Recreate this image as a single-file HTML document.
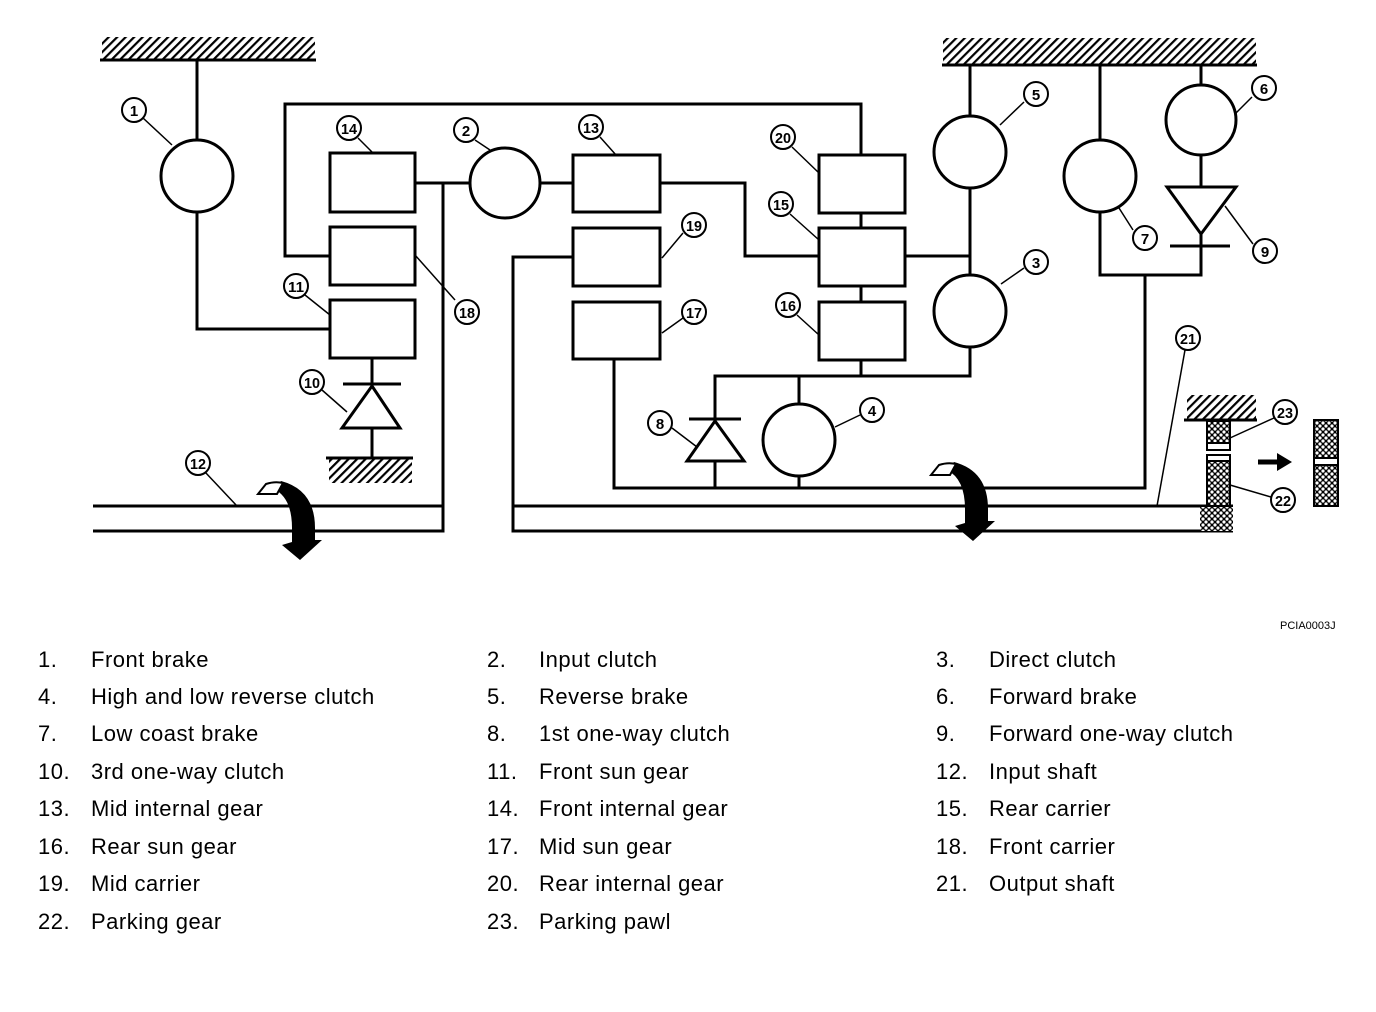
<!DOCTYPE html>
<html><head><meta charset="utf-8"><style>
body{margin:0;background:#fff;width:1376px;height:1012px;overflow:hidden;position:relative;font-family:"Liberation Sans",sans-serif}
svg{position:absolute;left:0;top:0}
.lg{position:absolute;font-size:22px;color:#000;white-space:nowrap;letter-spacing:0.5px;margin-top:-2px}
</style></head><body>
<svg width="1376" height="1012" viewBox="0 0 1376 1012">
<defs>
<pattern id="h" width="6" height="6" patternUnits="userSpaceOnUse" patternTransform="rotate(45)"><rect width="2.2" height="6" fill="#000"/></pattern>
<pattern id="x" width="6" height="6" patternUnits="userSpaceOnUse"><rect width="6" height="6" fill="#000"/><circle cx="3" cy="3" r="1.6" fill="#fff"/><circle cx="0" cy="0" r="1.6" fill="#fff"/><circle cx="6" cy="6" r="1.6" fill="#fff"/><circle cx="6" cy="0" r="1.6" fill="#fff"/><circle cx="0" cy="6" r="1.6" fill="#fff"/></pattern>
<g id="arr"><path d="M281,481 Q315,490 315,528 L315,540 L322,540 L300,560 L282,545 L292,542 L292,528 Q292,498 274,489 Z" fill="#000"/><path d="M258,494 L266,484 Q275,481 283,483 L277,494 Z" fill="#fff" stroke="#000" stroke-width="2"/></g>
</defs>
<g fill="none" stroke="#000" stroke-width="3">
<rect x="102" y="37" width="213" height="22" fill="url(#h)" stroke="none"/>
<line x1="100" y1="60" x2="316" y2="60"/>
<rect x="943" y="38" width="313" height="26" fill="url(#h)" stroke="none"/>
<line x1="942" y1="65" x2="1257" y2="65"/>
<rect x="329" y="459" width="83" height="24" fill="url(#h)" stroke="none"/>
<line x1="326" y1="458" x2="413" y2="458"/>
<rect x="1187" y="395" width="69" height="24" fill="url(#h)" stroke="none"/>
<line x1="1184" y1="420" x2="1257" y2="420"/>
<line x1="197" y1="60" x2="197" y2="141"/>
<circle cx="197" cy="176" r="36"/>
<polyline points="197,212 197,329 330,329"/>
<rect x="330" y="153" width="85" height="59"/>
<rect x="330" y="227" width="85" height="58"/>
<rect x="330" y="300" width="85" height="58"/>
<polyline points="330,256 285,256 285,104 861,104 861,155"/>
<line x1="415" y1="183" x2="470" y2="183"/>
<circle cx="505" cy="183" r="35"/>
<polyline points="443,183 443,531 93,531"/>
<line x1="93" y1="506" x2="443" y2="506"/>
<line x1="372" y1="358" x2="372" y2="384"/>
<line x1="343" y1="384" x2="401" y2="384"/>
<polygon points="372,386 342,428 400,428"/>
<line x1="372" y1="428" x2="372" y2="458"/>
<line x1="540" y1="183" x2="573" y2="183"/>
<rect x="573" y="155" width="87" height="57"/>
<rect x="573" y="228" width="87" height="58"/>
<rect x="573" y="302" width="87" height="57"/>
<polyline points="660,183 745,183 745,256 819,256"/>
<polyline points="573,257 513,257 513,531 1233,531"/>
<line x1="513" y1="506" x2="1233" y2="506"/>
<rect x="819" y="155" width="86" height="58"/>
<rect x="819" y="228" width="86" height="58"/>
<rect x="819" y="302" width="86" height="58"/>
<line x1="861" y1="213" x2="861" y2="228"/>
<line x1="861" y1="286" x2="861" y2="302"/>
<line x1="861" y1="360" x2="861" y2="376"/>
<polyline points="715,419 715,376 970,376 970,347"/>
<line x1="799" y1="376" x2="799" y2="404"/>
<circle cx="799" cy="440" r="36"/>
<line x1="799" y1="476" x2="799" y2="488"/>
<line x1="689" y1="419" x2="741" y2="419"/>
<polygon points="715,421 687,461 744,461"/>
<line x1="715" y1="461" x2="715" y2="488"/>
<polyline points="614,359 614,488 1145,488 1145,275"/>
<line x1="905" y1="256" x2="970" y2="256"/>
<line x1="970" y1="65" x2="970" y2="116"/>
<circle cx="970" cy="152" r="36"/>
<line x1="970" y1="188" x2="970" y2="275"/>
<circle cx="970" cy="311" r="36"/>
<line x1="1100" y1="65" x2="1100" y2="140"/>
<circle cx="1100" cy="176" r="36"/>
<polyline points="1100,212 1100,275 1201,275 1201,234"/>
<line x1="1201" y1="65" x2="1201" y2="85"/>
<circle cx="1201" cy="120" r="35"/>
<line x1="1201" y1="155" x2="1201" y2="187"/>
<polygon points="1167,187 1236,187 1201,234"/>
<line x1="1170" y1="246" x2="1230" y2="246"/>
</g>
<g stroke="#000" stroke-width="2">
<rect x="1207" y="421" width="23" height="22" fill="url(#x)"/>
<rect x="1207" y="443" width="23" height="7" fill="#fff"/>
<rect x="1207" y="455" width="23" height="6" fill="#fff"/>
<rect x="1207" y="461" width="23" height="45" fill="url(#x)"/>
<rect x="1200" y="507" width="33" height="24" fill="url(#x)" stroke="none"/>
<rect x="1314" y="420" width="24" height="86" fill="url(#x)"/>
<rect x="1314" y="458" width="24" height="7" fill="#fff"/>
</g>
<line x1="1258" y1="462" x2="1278" y2="462" stroke="#000" stroke-width="5"/>
<polygon points="1277,453 1292,462 1277,471" fill="#000"/>
<use href="#arr"/>
<use href="#arr" transform="translate(673,-19)"/>
<g stroke="#000" stroke-width="1.5">
<line x1="143" y1="118" x2="172" y2="145"/>
<line x1="475" y1="140" x2="490" y2="150"/>
<line x1="358" y1="138" x2="373" y2="153"/>
<line x1="305" y1="295" x2="330" y2="315"/>
<line x1="415" y1="255" x2="455" y2="300"/>
<line x1="322" y1="390" x2="347" y2="412"/>
<line x1="205" y1="472" x2="237" y2="506"/>
<line x1="600" y1="137" x2="616" y2="155"/>
<line x1="683" y1="233" x2="662" y2="258"/>
<line x1="683" y1="318" x2="662" y2="333"/>
<line x1="792" y1="147" x2="819" y2="173"/>
<line x1="790" y1="214" x2="819" y2="240"/>
<line x1="797" y1="315" x2="819" y2="335"/>
<line x1="860" y1="415" x2="835" y2="427"/>
<line x1="672" y1="428" x2="697" y2="447"/>
<line x1="1024" y1="102" x2="1000" y2="125"/>
<line x1="1024" y1="268" x2="1001" y2="284"/>
<line x1="1252" y1="97" x2="1236" y2="113"/>
<line x1="1133" y1="230" x2="1119" y2="208"/>
<line x1="1253" y1="244" x2="1225" y2="206"/>
<line x1="1185" y1="350" x2="1157" y2="506"/>
<line x1="1274" y1="418" x2="1230" y2="438"/>
<line x1="1271" y1="497" x2="1230" y2="485"/>
</g>
<g fill="#fff" stroke="#000" stroke-width="2" font-family="Liberation Sans Narrow, Liberation Sans, sans-serif" font-weight="bold" font-size="15" text-anchor="middle">
<g><circle cx="134" cy="110" r="12"/><text x="134" y="116" fill="#000" stroke="none">1</text></g>
<g><circle cx="466" cy="130" r="12"/><text x="466" y="136" fill="#000" stroke="none">2</text></g>
<g><circle cx="349" cy="128" r="12"/><text x="349" y="134" fill="#000" stroke="none" textLength="16" lengthAdjust="spacingAndGlyphs">14</text></g>
<g><circle cx="296" cy="286" r="12"/><text x="296" y="292" fill="#000" stroke="none" textLength="16" lengthAdjust="spacingAndGlyphs">11</text></g>
<g><circle cx="467" cy="312" r="12"/><text x="467" y="318" fill="#000" stroke="none" textLength="16" lengthAdjust="spacingAndGlyphs">18</text></g>
<g><circle cx="312" cy="382" r="12"/><text x="312" y="388" fill="#000" stroke="none" textLength="16" lengthAdjust="spacingAndGlyphs">10</text></g>
<g><circle cx="198" cy="463" r="12"/><text x="198" y="469" fill="#000" stroke="none" textLength="16" lengthAdjust="spacingAndGlyphs">12</text></g>
<g><circle cx="591" cy="127" r="12"/><text x="591" y="133" fill="#000" stroke="none" textLength="16" lengthAdjust="spacingAndGlyphs">13</text></g>
<g><circle cx="694" cy="225" r="12"/><text x="694" y="231" fill="#000" stroke="none" textLength="16" lengthAdjust="spacingAndGlyphs">19</text></g>
<g><circle cx="694" cy="312" r="12"/><text x="694" y="318" fill="#000" stroke="none" textLength="16" lengthAdjust="spacingAndGlyphs">17</text></g>
<g><circle cx="783" cy="137" r="12"/><text x="783" y="143" fill="#000" stroke="none" textLength="16" lengthAdjust="spacingAndGlyphs">20</text></g>
<g><circle cx="781" cy="204" r="12"/><text x="781" y="210" fill="#000" stroke="none" textLength="16" lengthAdjust="spacingAndGlyphs">15</text></g>
<g><circle cx="788" cy="305" r="12"/><text x="788" y="311" fill="#000" stroke="none" textLength="16" lengthAdjust="spacingAndGlyphs">16</text></g>
<g><circle cx="872" cy="410" r="12"/><text x="872" y="416" fill="#000" stroke="none">4</text></g>
<g><circle cx="660" cy="423" r="12"/><text x="660" y="429" fill="#000" stroke="none">8</text></g>
<g><circle cx="1036" cy="94" r="12"/><text x="1036" y="100" fill="#000" stroke="none">5</text></g>
<g><circle cx="1264" cy="88" r="12"/><text x="1264" y="94" fill="#000" stroke="none">6</text></g>
<g><circle cx="1036" cy="262" r="12"/><text x="1036" y="268" fill="#000" stroke="none">3</text></g>
<g><circle cx="1145" cy="238" r="12"/><text x="1145" y="244" fill="#000" stroke="none">7</text></g>
<g><circle cx="1265" cy="251" r="12"/><text x="1265" y="257" fill="#000" stroke="none">9</text></g>
<g><circle cx="1188" cy="338" r="12"/><text x="1188" y="344" fill="#000" stroke="none" textLength="16" lengthAdjust="spacingAndGlyphs">21</text></g>
<g><circle cx="1285" cy="412" r="12"/><text x="1285" y="418" fill="#000" stroke="none" textLength="16" lengthAdjust="spacingAndGlyphs">23</text></g>
<g><circle cx="1283" cy="500" r="12"/><text x="1283" y="506" fill="#000" stroke="none" textLength="16" lengthAdjust="spacingAndGlyphs">22</text></g>
</g>
<text x="1280" y="629" font-family="Liberation Sans, sans-serif" font-size="11">PCIA0003J</text>
</svg>
<div class="lg" style="left:38px;top:649px">1.</div><div class="lg" style="left:91px;top:649px">Front brake</div>
<div class="lg" style="left:487px;top:649px">2.</div><div class="lg" style="left:539px;top:649px">Input clutch</div>
<div class="lg" style="left:936px;top:649px">3.</div><div class="lg" style="left:989px;top:649px">Direct clutch</div>
<div class="lg" style="left:38px;top:686px">4.</div><div class="lg" style="left:91px;top:686px">High and low reverse clutch</div>
<div class="lg" style="left:487px;top:686px">5.</div><div class="lg" style="left:539px;top:686px">Reverse brake</div>
<div class="lg" style="left:936px;top:686px">6.</div><div class="lg" style="left:989px;top:686px">Forward brake</div>
<div class="lg" style="left:38px;top:723px">7.</div><div class="lg" style="left:91px;top:723px">Low coast brake</div>
<div class="lg" style="left:487px;top:723px">8.</div><div class="lg" style="left:539px;top:723px">1st one-way clutch</div>
<div class="lg" style="left:936px;top:723px">9.</div><div class="lg" style="left:989px;top:723px">Forward one-way clutch</div>
<div class="lg" style="left:38px;top:761px">10.</div><div class="lg" style="left:91px;top:761px">3rd one-way clutch</div>
<div class="lg" style="left:487px;top:761px">11.</div><div class="lg" style="left:539px;top:761px">Front sun gear</div>
<div class="lg" style="left:936px;top:761px">12.</div><div class="lg" style="left:989px;top:761px">Input shaft</div>
<div class="lg" style="left:38px;top:798px">13.</div><div class="lg" style="left:91px;top:798px">Mid internal gear</div>
<div class="lg" style="left:487px;top:798px">14.</div><div class="lg" style="left:539px;top:798px">Front internal gear</div>
<div class="lg" style="left:936px;top:798px">15.</div><div class="lg" style="left:989px;top:798px">Rear carrier</div>
<div class="lg" style="left:38px;top:836px">16.</div><div class="lg" style="left:91px;top:836px">Rear sun gear</div>
<div class="lg" style="left:487px;top:836px">17.</div><div class="lg" style="left:539px;top:836px">Mid sun gear</div>
<div class="lg" style="left:936px;top:836px">18.</div><div class="lg" style="left:989px;top:836px">Front carrier</div>
<div class="lg" style="left:38px;top:873px">19.</div><div class="lg" style="left:91px;top:873px">Mid carrier</div>
<div class="lg" style="left:487px;top:873px">20.</div><div class="lg" style="left:539px;top:873px">Rear internal gear</div>
<div class="lg" style="left:936px;top:873px">21.</div><div class="lg" style="left:989px;top:873px">Output shaft</div>
<div class="lg" style="left:38px;top:911px">22.</div><div class="lg" style="left:91px;top:911px">Parking gear</div>
<div class="lg" style="left:487px;top:911px">23.</div><div class="lg" style="left:539px;top:911px">Parking pawl</div>
</body></html>
